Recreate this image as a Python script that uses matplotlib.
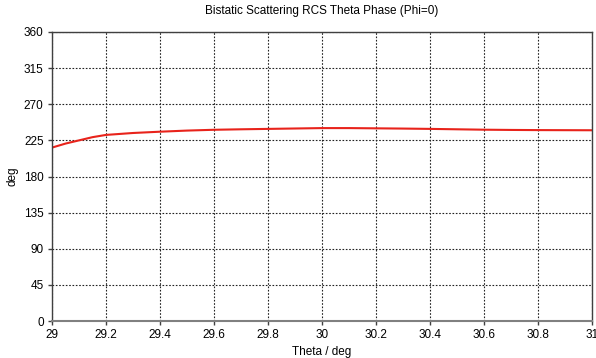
import numpy as np
import matplotlib
matplotlib.use("Agg")
import matplotlib.pyplot as plt

plt.rcParams['font.family'] = ['Liberation Sans', 'DejaVu Sans']

# Data
theta = [29.0, 29.05, 29.1, 29.15, 29.2, 29.3, 29.4, 29.5, 29.6, 29.7, 29.8, 29.9,
         30.0, 30.1, 30.2, 30.3, 30.4, 30.5, 30.6, 30.7, 30.8, 30.9, 31.0]
phase = [216.0, 221.0, 225.0, 229.0, 231.8, 234.2, 235.8, 237.2, 238.2, 238.8, 239.3, 239.8,
         240.3, 240.3, 240.0, 239.7, 239.3, 238.8, 238.3, 238.0, 237.8, 237.7, 237.6]
xticks = [29, 29.2, 29.4, 29.6, 29.8, 30, 30.2, 30.4, 30.6, 30.8, 31]
xlabels = ['29', '29.2', '29.4', '29.6', '29.8', '30', '30.2', '30.4', '30.6', '30.8', '31']
yticks = [0, 45, 90, 135, 180, 225, 270, 315, 360]

fig = plt.figure(figsize=(5.96, 3.58), dpi=100)
ax = fig.add_axes([52 / 596, 37 / 358, 540 / 596, 289 / 358])

ax.plot(theta, phase, color='#e8231b', lw=1.5)

ax.set_xlim(29, 31)
ax.set_ylim(0, 360)
ax.set_xticks(xticks)
ax.set_xticklabels(xlabels)
ax.set_yticks(yticks)
ax.tick_params(labelsize=8.5, length=3, width=1, color='#404040', pad=3)
ax.grid(True, color='#222222', linestyle=(0, (1.5, 1.5)), lw=0.8)

for s in ax.spines.values():
    s.set_color('#404040')
    s.set_linewidth(1)
ax.spines['bottom'].set_color('#808080')
ax.spines['bottom'].set_linewidth(1.5)

ax.set_title('Bistatic Scattering RCS Theta Phase (Phi=0)', fontsize=8.5, pad=13)
ax.set_xlabel('Theta / deg', fontsize=8.5, labelpad=3)
ax.set_ylabel('deg', fontsize=8.5, labelpad=4)

fig.savefig('out.png', dpi=100)
